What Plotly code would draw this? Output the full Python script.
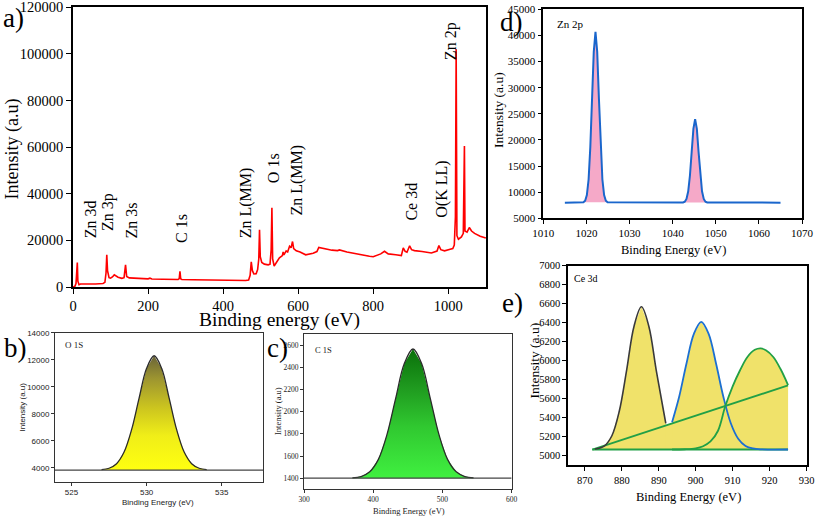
import plotly.graph_objects as go

W, H = 817, 517
SERIF = "Liberation Serif"
SANS = "Liberation Sans"

# ---------------- Panel a: survey spectrum ----------------
survey_x = [0, 5, 8, 10, 11.5, 13, 16, 20, 40, 60, 80, 85, 88, 90, 92, 96, 100, 105, 110, 115,
            120, 130, 136, 140, 143, 150, 160, 180, 200, 205, 210, 240, 260, 280, 283, 285, 287,
            290, 320, 350, 380, 400, 430, 460, 468, 472, 475, 478, 482, 488, 492, 495, 497, 499,
            503, 510, 520, 525, 528, 530, 532, 536, 542, 550, 558, 560, 562, 568, 572, 577, 581,
            585, 588, 595, 605, 620, 640, 650, 655, 660, 670, 690, 705, 710, 730, 760, 790, 800,
            820, 830, 840, 860, 875, 880, 885, 890, 897, 902, 910, 930, 955, 970, 975, 980, 990,
            1005, 1012, 1016, 1019, 1021, 1023, 1027, 1035, 1040, 1042, 1043, 1044.5, 1050, 1056,
            1062, 1070, 1085, 1100]
survey_y = [0, 300, 1500, 6000, 10500, 2500, 1000, 1300, 1200, 1300, 1500, 2000, 6000, 13800,
            7000, 4000, 3800, 4300, 5200, 4500, 4200, 3700, 4000, 9500, 4500, 3900, 3800, 3500,
            3500, 3800, 3400, 3300, 3400, 3200, 3600, 6700, 3500, 3200, 3100, 3000, 2900, 2800,
            2700, 2800, 3000, 5000, 10800, 7000, 5600, 5700, 7500, 12000, 24500, 13000, 10500,
            9800, 9500, 9800, 16000, 34000, 12000, 9000, 10500, 12500, 13500, 15000, 13800, 15500,
            15000, 17500, 16800, 19500, 16500, 15500, 15000, 13800, 14500, 15200, 17000, 16800,
            16500, 15800, 15600, 15900, 15000, 14000, 13200, 13000, 14200, 15300, 14200, 13800,
            13500, 16800, 15300, 14900, 17700, 16000, 15600, 15200, 14600, 15400, 17800, 16000,
            15500, 16200, 16500, 18000, 30000, 102000, 22000, 20500, 21500, 23000, 40000, 60500,
            24000, 23500, 25500, 24000, 23000, 21800, 21000]
survey_labels = ["Zn 3d", "Zn 3p", "Zn 3s", "C 1s", "Zn L(MM)", "O 1s", "Zn L(MM)",
                 "Ce 3d", "O(K LL)", "Zn 2p"]
survey_label_x = [45, 93, 156, 289, 460, 533, 597, 902, 981, 1007]
survey_label_y = [20000, 23100, 19700, 18000, 20100, 43700, 29600, 27400, 28700, 96400]

# ---------------- Panel b: O 1s ----------------
o1s_x = [527.0, 527.5, 528.0, 528.5, 529.0, 529.5, 530.0, 530.5, 531.0, 531.5, 532.0, 532.5,
         533.0, 533.5, 534.0]
o1s_y = [3860, 3960, 4300, 5160, 6820, 9160, 11370, 12300, 11370, 9160, 6820, 5160, 4300,
         3960, 3860]
o1s_base = 3827

# ---------------- Panel c: C 1s ----------------
c1s_x = [370, 382.5, 395, 407.5, 420, 432.5, 445, 457.5, 470, 482.5, 495, 507.5, 520, 532.5, 545]
c1s_y = [1403, 1415, 1458, 1570, 1795, 2120, 2433, 2565, 2433, 2120, 1795, 1570, 1458, 1415, 1403]
c1s_base = 1400

# ---------------- Panel d: Zn 2p ----------------
zn1_x = [1019.3, 1019.7, 1020.1, 1020.5, 1020.9, 1021.3, 1021.7, 1022.1, 1022.5, 1022.9,
         1023.3, 1023.7, 1024.1, 1024.5, 1024.9]
zn1_y = [8070, 8364, 9436, 12425, 18620, 27830, 36860, 40700, 36860, 27830, 18620, 12425,
         9436, 8364, 8070]
zn2_x = [1042.4, 1042.8, 1043.2, 1043.6, 1044.0, 1044.4, 1044.8, 1045.2, 1045.6, 1046.0,
         1046.4, 1046.8, 1047.2, 1047.6, 1048.0]
zn2_y = [8035, 8178, 8702, 10165, 13195, 17704, 22120, 24000, 22120, 17704, 13195, 10165,
         8702, 8178, 8035]
zn_base = 8000
zn_ends = [1015, 1065]

# ---------------- Panel e: Ce 3d ----------------
ce_base = 5065
ce_ends = [872, 925]
ce_diag_y = [5065, 5740]
ce1_x = [872.7, 875.3, 877.3, 879.3, 881.3, 883.3, 885.3, 887.3, 889.3, 891.3, 891.9]
ce1_y = [5070, 5104, 5210, 5468, 5902, 6364, 6568, 6364, 5902, 5468, 5340]
ce2_x = [893.6, 895.5, 897.5, 899.5, 901.5, 903.5, 905.5, 907.5, 909.5, 911.5, 913.5, 915.5,
         917.5, 925]
ce2_y = [5353, 5618, 5971, 6283, 6410, 6283, 5971, 5618, 5342, 5179, 5103, 5076, 5067, 5065]
ce3_x = [893.6, 897, 900, 902, 904, 906, 908, 910, 912, 914, 916, 917.6, 919, 921, 923, 925]
ce3_y = [5065, 5068, 5078, 5100, 5150, 5260, 5520, 5730, 5900, 6040, 6115, 6130, 6110, 6040,
         5910, 5744]


def dx(l, r):
    return [l / W, r / W]


def dy(t, b):
    return [1 - b / H, 1 - t / H]


fig = go.Figure()

# a
fig.add_trace(go.Scatter(x=survey_x, y=survey_y, mode="lines",
                         line=dict(color="#ff0000", width=1.6), xaxis="x", yaxis="y"))

# b
fig.add_trace(go.Scatter(x=o1s_x + [o1s_x[-1], o1s_x[0]], y=o1s_y + [o1s_base, o1s_base],
                         mode="none", fill="toself",
                         fillgradient=dict(type="vertical", start=o1s_base, stop=max(o1s_y),
                                           colorscale=[[0, "#ffff10"], [0.3, "#f0ee18"],
                                                       [0.55, "#cbc41f"], [0.8, "#9d9530"],
                                                       [1, "#6a6438"]]),
                         xaxis="x2", yaxis="y2"))
fig.add_trace(go.Scatter(x=o1s_x, y=o1s_y, mode="lines", line=dict(color="#2b2b2b", width=1.3,
                                                                  shape="spline"),
                         xaxis="x2", yaxis="y2"))
fig.add_trace(go.Scatter(x=[523.9, 537.75], y=[o1s_base, o1s_base], mode="lines",
                         line=dict(color="#444444", width=1.2), xaxis="x2", yaxis="y2"))

# c
fig.add_trace(go.Scatter(x=c1s_x + [c1s_x[-1], c1s_x[0]], y=c1s_y + [c1s_base, c1s_base],
                         mode="none", fill="toself",
                         fillgradient=dict(type="vertical", start=c1s_base, stop=max(c1s_y),
                                           colorscale=[[0, "#40f040"], [0.4, "#30c830"],
                                                       [0.7, "#1f9a1f"], [1, "#0a700a"]]),
                         xaxis="x3", yaxis="y3"))
fig.add_trace(go.Scatter(x=c1s_x, y=c1s_y, mode="lines", line=dict(color="#2b2b2b", width=1.3,
                                                                  shape="spline"),
                         xaxis="x3", yaxis="y3"))
fig.add_trace(go.Scatter(x=[300, 600], y=[c1s_base, c1s_base], mode="lines",
                         line=dict(color="#444444", width=1.2), xaxis="x3", yaxis="y3"))

# d
for px_, py_ in [(zn1_x, zn1_y), (zn2_x, zn2_y)]:
    fig.add_trace(go.Scatter(x=px_ + [px_[0]], y=py_ + [py_[0]], mode="none", fill="toself",
                             fillcolor="#f5a9c8", xaxis="x4", yaxis="y4"))
fig.add_trace(go.Scatter(x=[zn_ends[0]] + zn1_x + zn2_x + [zn_ends[1]],
                         y=[zn_base] + zn1_y + zn2_y + [zn_base], mode="lines",
                         line=dict(color="#1a66cc", width=2), xaxis="x4", yaxis="y4"))

# e fills
YEL = "#f0e26a"
fig.add_trace(go.Scatter(x=[ce_ends[0], ce_ends[1], ce_ends[1]],
                         y=[ce_base, ce_diag_y[1], ce_base], mode="none", fill="toself",
                         fillcolor=YEL, xaxis="x5", yaxis="y5"))
fig.add_trace(go.Scatter(x=ce1_x + [ce1_x[-1], ce1_x[0]], y=ce1_y + [ce_base, ce_base],
                         mode="none", fill="toself", fillcolor=YEL, xaxis="x5", yaxis="y5"))
fig.add_trace(go.Scatter(x=ce2_x + [ce2_x[0]], y=ce2_y + [ce_base],
                         mode="none", fill="toself", fillcolor=YEL, xaxis="x5", yaxis="y5"))
fig.add_trace(go.Scatter(x=ce3_x + [ce3_x[-1]], y=ce3_y + [ce_base],
                         mode="none", fill="toself", fillcolor=YEL, xaxis="x5", yaxis="y5"))
# e lines
GREEN = "#22a046"
fig.add_trace(go.Scatter(x=ce_ends, y=[ce_base, ce_base], mode="lines",
                         line=dict(color=GREEN, width=1.8), xaxis="x5", yaxis="y5"))
fig.add_trace(go.Scatter(x=ce_ends, y=ce_diag_y, mode="lines",
                         line=dict(color=GREEN, width=1.8), xaxis="x5", yaxis="y5"))
fig.add_trace(go.Scatter(x=ce1_x, y=ce1_y, mode="lines",
                         line=dict(color="#3a3a3a", width=1.6, shape="spline"),
                         xaxis="x5", yaxis="y5"))
fig.add_trace(go.Scatter(x=ce2_x, y=ce2_y, mode="lines",
                         line=dict(color="#1c6fd1", width=1.8, shape="spline"),
                         xaxis="x5", yaxis="y5"))
fig.add_trace(go.Scatter(x=ce3_x, y=ce3_y, mode="lines",
                         line=dict(color=GREEN, width=1.8, shape="spline"),
                         xaxis="x5", yaxis="y5"))


def ax(domain, rng, anchor, font, dtick, tick0, lw=1.5, lc="black", ticklen=5):
    return dict(domain=domain, range=rng, anchor=anchor, showgrid=False, zeroline=False,
                showline=True, mirror=True, linecolor=lc, linewidth=lw, ticks="outside",
                ticklen=ticklen, tickwidth=1, tickcolor=lc, tickfont=font, tickformat="d",
                fixedrange=True, automargin=False, tickmode="linear", dtick=dtick,
                tick0=tick0, ticklabeloverflow="allow")


fa = dict(family=SERIF, size=14.5, color="black")
fd = dict(family=SERIF, size=11, color="black")
fe = dict(family=SERIF, size=10.5, color="black")
fb = dict(family=SANS, size=8, color="#222")
fc = dict(family=SERIF, size=7.5, color="#222")

fig.update_layout(
    template="none",
    width=W, height=H, margin=dict(l=0, r=0, t=0, b=0, pad=0, autoexpand=False),
    paper_bgcolor="white", plot_bgcolor="white", showlegend=False,
    xaxis=ax(dx(73, 486), [0, 1100.5], "y", fa, 200, 0, ticklen=5),
    yaxis=ax(dy(7, 287), [0, 120080], "x", fa, 20000, 0, ticklen=5),
    xaxis2=ax(dx(55, 263), [523.9, 537.75], "y2", fb, 5, 525, lw=1, lc="#333", ticklen=3),
    yaxis2=ax(dy(332.7, 481.7), [2963, 14010], "x2", fb, 2000, 4000, lw=1, lc="#333",
              ticklen=3),
    xaxis3=ax(dx(304, 511.7), [300, 600.2], "y3", fc, 100, 300, lw=1, lc="#333", ticklen=3),
    yaxis3=ax(dy(334, 489.3), [1300, 2700], "x3", fc, 200, 1400, lw=1, lc="#333",
              ticklen=3),
    xaxis4=ax(dx(543.3, 802.3), [1010, 1070.05], "y4", fd, 10, 1010, lw=1.5, ticklen=4),
    yaxis4=ax(dy(9.3, 218.3), [5000, 45020], "x4", fd, 5000, 5000, lw=1.5, ticklen=4),
    xaxis5=ax(dx(568.3, 806.7), [865.5, 930.05], "y5", fe, 10, 870, lw=2, ticklen=4),
    yaxis5=ax(dy(265.7, 465), [4902, 7001], "x5", fe, 200, 5000, lw=2, ticklen=4),
)


def ann(text, px, py, size, family=SERIF, angle=0, xanchor="center", color="black"):
    return dict(text=text, x=px / W, y=1 - py / H, xref="paper", yref="paper",
                showarrow=False, textangle=angle, xanchor=xanchor, yanchor="middle",
                font=dict(family=family, size=size, color=color))


anns = [
    ann("a)", 14, 18, 27), ann("b)", 16, 347.5, 27), ann("c)", 277.5, 348, 27),
    ann("d)", 511, 22, 27), ann("e)", 512.5, 303, 27),
    ann("Binding energy (eV)", 279, 320, 19.5),
    ann("Intensity (a.u)", 11.5, 149, 18, angle=-90),
    ann("Binding Energy (eV)", 673, 250, 12.5),
    ann("Intensity (a.u)", 499, 110, 13.5, angle=-90),
    ann("Binding Energy (eV)", 688, 496.5, 12.5),
    ann("Intensity (a.u)", 534, 360.5, 13.5, angle=-90),
    ann("Binding Energy (eV)", 158, 502.7, 8, family=SANS, color="#222"),
    ann("Intensity (a.u)", 21.5, 407, 8, family=SANS, angle=-90, color="#222"),
    ann("Binding Energy (eV)", 408.5, 510.7, 8.5, color="#222"),
    ann("Intensity (a.u)", 277.5, 411.5, 8.5, angle=-90, color="#222"),
    ann("Zn 2p", 555, 24, 11, xanchor="left"),
    ann("Ce 3d", 572, 278, 10, xanchor="left"),
    ann("O 1S", 63, 345, 9, xanchor="left", color="#222"),
    ann("C 1S", 313, 350, 8.5, xanchor="left", color="#222"),
]
for t, lx, ly in zip(survey_labels, survey_label_x, survey_label_y):
    anns.append(dict(text=t, x=lx, y=ly, xref="x", yref="y", showarrow=False,
                     textangle=-90, xanchor="center", yanchor="bottom",
                     font=dict(family=SERIF, size=16, color="black")))
fig.update_layout(annotations=anns)

fig.write_html("out.html", config={"displayModeBar": False},
               post_script="document.body.style.margin='0px';"
                           "document.body.style.overflow='hidden';")
